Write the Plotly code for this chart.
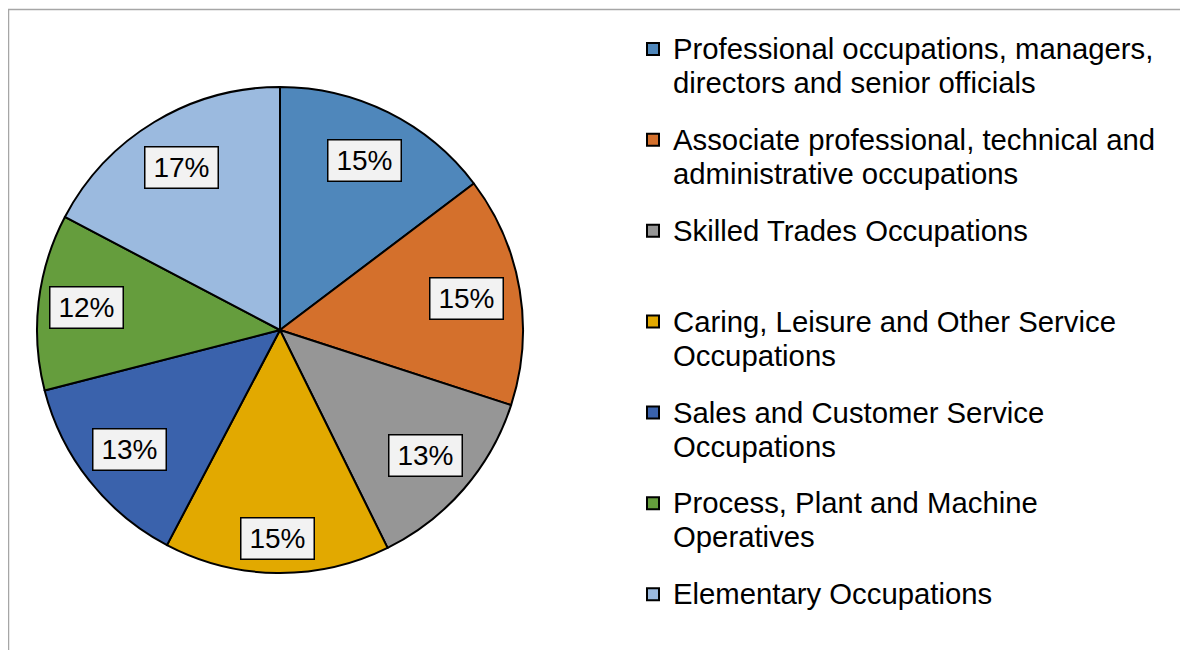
import math
import plotly.graph_objects as go

# ---- data ----
categories = [
    "Professional occupations, managers,<br>directors and senior officials",
    "Associate professional, technical and<br>administrative occupations",
    "Skilled Trades Occupations",
    "Caring, Leisure and Other Service<br>Occupations",
    "Sales and Customer Service<br>Occupations",
    "Process, Plant and Machine<br>Operatives",
    "Elementary Occupations",
]
shares = [14.7, 15.3, 12.7, 15.0, 13.3, 11.7, 17.3]
pct_labels = ["15%", "15%", "13%", "15%", "13%", "12%", "17%"]

# ---- style ----
colors = ["#4f87bb", "#d4702c", "#969696", "#e2a900", "#3a62ac", "#659d3d", "#9bbadf"]
label_radius = [0.78, 0.78, 0.79, 0.86, 0.79, 0.80, 0.78]

OFF = 8  # browser page margin
W, H = 1180, 642


def px_x(p):
    return (p - OFF) / W


def px_y(p):
    return 1 - (p - OFF) / H


dom_x = [px_x(37), px_x(523)]
dom_y = [px_y(573), px_y(87)]

LEG_FONT = 29.3
BASE = 26.1  # gives ~34px line pitch


def legend_text(t, last=False):
    lines = t.split("<br>")
    if not last:
        while len(lines) < 2:
            lines.append(" ")
    return "<br>".join(f"<span style='font-size:{LEG_FONT}px'>{ln}</span>" for ln in lines)


fig = go.Figure()
fig.add_trace(go.Pie(
    labels=[c.replace("<br>", " ") for c in categories],
    values=shares,
    sort=False,
    direction="clockwise",
    rotation=0,
    marker=dict(colors=colors, line=dict(color="#000000", width=2)),
    textinfo="none",
    hoverinfo="label+percent",
    domain=dict(x=dom_x, y=dom_y),
    showlegend=False,
))

# legend entries for each slice (one legend group each, for spacing)
for i, (c, col) in enumerate(zip(categories, colors)):
    fig.add_trace(go.Scatter(
        x=[None], y=[None], mode="markers",
        marker=dict(symbol="square", size=12, color=col, line=dict(color="#000000", width=2)),
        name=legend_text(c, i == len(categories) - 1),
        legendgroup=f"g{i}", showlegend=True, hoverinfo="skip",
    ))

# percentage labels placed from the data values
total = sum(shares)
cx = (dom_x[0] + dom_x[1]) / 2
cy = (dom_y[0] + dom_y[1]) / 2
R = min((dom_x[1] - dom_x[0]) * W, (dom_y[1] - dom_y[0]) * H) / 2
cum = 0.0
for v, lab, rf in zip(shares, pct_labels, label_radius):
    mid = (cum + v / 2) / total * 2 * math.pi
    cum += v
    r = rf * R
    fig.add_annotation(
        x=cx + r * math.sin(mid) / W,
        y=cy + r * math.cos(mid) / H,
        xref="paper", yref="paper",
        text=lab, showarrow=False,
        font=dict(family="Liberation Sans, Arial, sans-serif", size=28, color="#000000"),
        bgcolor="#f2f2f2", bordercolor="#000000", borderwidth=1.5, borderpad=1,
        width=70, height=38,
        xanchor="center", yanchor="middle",
    )

# chart-area border (top and left edges visible)
fig.add_shape(
    type="path",
    path=f"M {px_x(8.5)},0 L {px_x(8.5)},{px_y(9.5)} L 1,{px_y(9.5)}",
    xref="paper", yref="paper",
    line=dict(color="#a6a6a6", width=1.5),
)

fig.update_layout(
    width=W, height=H,
    margin=dict(l=0, r=0, t=0, b=0),
    paper_bgcolor="#ffffff",
    plot_bgcolor="#ffffff",
    font=dict(family="Liberation Sans, Arial, sans-serif", color="#000000"),
    xaxis=dict(visible=False),
    yaxis=dict(visible=False),
    showlegend=True,
    legend=dict(
        x=px_x(633), y=px_y(25.5), xanchor="left", yanchor="top",
        font=dict(size=BASE, color="#000000"),
        valign="top",
        tracegroupgap=20,
        traceorder="grouped",
        bgcolor="rgba(0,0,0,0)",
    ),
)

fig.write_html("out.html")
